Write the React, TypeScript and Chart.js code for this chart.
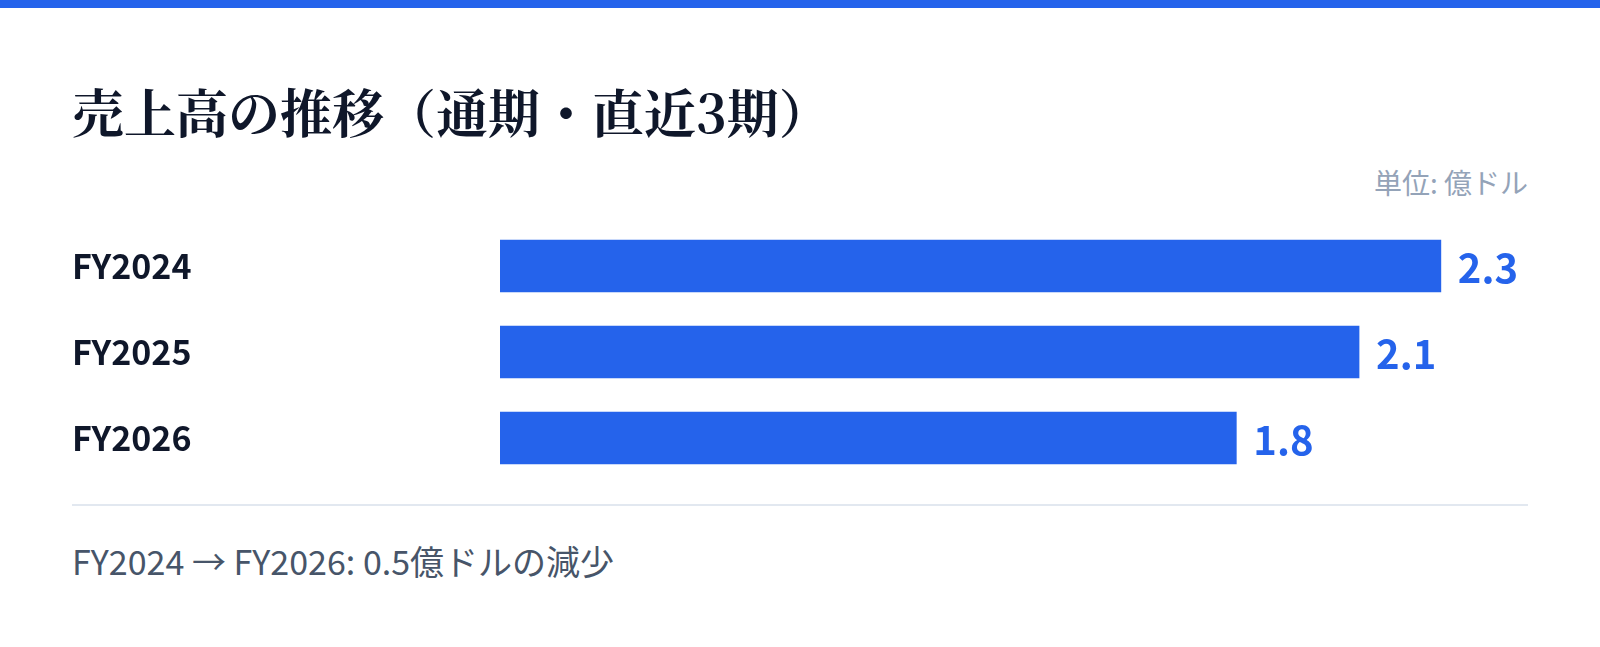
import React, { useEffect, useRef } from "react";
import { Chart, registerables } from "chart.js";

Chart.register(...registerables);

const TITLE = "売上高の推移（通期・直近3期）";
const UNIT_LABEL = "単位: 億ドル";
const FOOTNOTE = "FY2024 → FY2026: 0.5億ドルの減少";
const categories = ["FY2024", "FY2025", "FY2026"];
const salesValues = [2.3, 2.1, 1.8];
const valueLabels = ["2.3", "2.1", "1.8"];
const X_MAX = 2.513;

const BLUE = "#2563eb";
const SANS = '"Noto Sans CJK JP", "Noto Sans", sans-serif';

const valueLabelPlugin = {
  id: "valueLabels",
  afterDatasetsDraw(chart: any) {
    const ctx = chart.ctx;
    const meta = chart.getDatasetMeta(0);
    ctx.save();
    ctx.font = `700 40px ${SANS}`;
    ctx.fillStyle = BLUE;
    ctx.textAlign = "left";
    ctx.textBaseline = "middle";
    meta.data.forEach((bar: any, i: number) => {
      ctx.fillText(valueLabels[i], bar.x + 17, bar.y + 2);
    });
    ctx.restore();
  },
};

export default function App() {
  const canvasRef = useRef<HTMLCanvasElement | null>(null);

  useEffect(() => {
    if (!canvasRef.current) return;
    const chart = new Chart(canvasRef.current, {
      type: "bar",
      data: {
        labels: categories,
        datasets: [
          {
            data: salesValues,
            backgroundColor: BLUE,
            borderWidth: 0,
            barThickness: 52,
          },
        ],
      },
      options: {
        indexAxis: "y",
        animation: false,
        responsive: true,
        maintainAspectRatio: false,
        layout: { padding: 0 },
        plugins: {
          legend: { display: false },
          tooltip: { enabled: false },
          title: { display: false },
        },
        scales: {
          x: {
            display: false,
            min: 0,
            max: X_MAX,
          },
          y: {
            grid: { display: false },
            border: { display: false },
            afterFit: (scale: any) => {
              scale.width = 428;
              scale.paddingTop = 0;
              scale.paddingBottom = 0;
            },
            ticks: {
              crossAlign: "far",
              padding: 0,
              color: "#0f172a",
              font: { family: SANS, size: 34, weight: "700" },
            },
          },
        },
      },
      plugins: [valueLabelPlugin],
    });
    return () => chart.destroy();
  }, []);

  return (
    <div style={{ position: "relative", width: 1600, height: 647, background: "#ffffff", overflow: "hidden" }}>
      <style>{`body{margin:0;background:#fff;}`}</style>
      <div style={{ position: "absolute", left: 0, top: 0, width: 1600, height: 8, background: BLUE }} />
      <div
        style={{
          position: "absolute",
          left: 72,
          top: 79,
          fontFamily: '"Noto Serif CJK JP", serif',
          fontWeight: 700,
          fontSize: 52,
          lineHeight: "64px",
          color: "#0f172a",
          whiteSpace: "nowrap",
        }}
      >
        {TITLE}
      </div>
      <div
        style={{
          position: "absolute",
          right: 72,
          top: 163,
          fontFamily: SANS,
          fontSize: 28,
          lineHeight: "38px",
          color: "#94a3b8",
          whiteSpace: "nowrap",
        }}
      >
        {UNIT_LABEL}
      </div>
      <div style={{ position: "absolute", left: 72, top: 223, width: 1456, height: 258 }}>
        <canvas ref={canvasRef} />
      </div>
      <div style={{ position: "absolute", left: 72, top: 504, width: 1456, height: 2, background: "#e2e8f0" }} />
      <div
        style={{
          position: "absolute",
          left: 72,
          top: 538,
          fontFamily: SANS,
          fontSize: 34,
          lineHeight: "46px",
          color: "#475569",
          whiteSpace: "nowrap",
        }}
      >
        {FOOTNOTE}
      </div>
    </div>
  );
}
